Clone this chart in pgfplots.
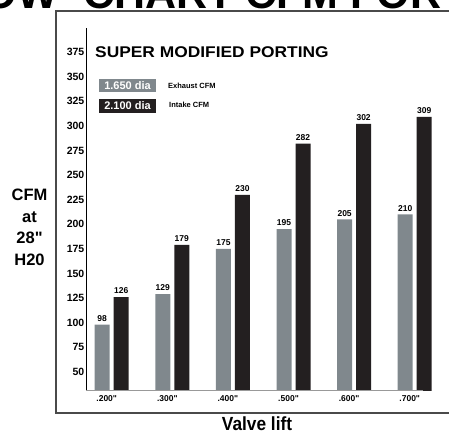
\documentclass[border=0pt]{standalone}
\usepackage{pgfplots}
\pgfplotsset{compat=1.18}
\usepackage{fontspec}
\setmainfont{Liberation Sans}
\definecolor{exh}{HTML}{80888D}
\definecolor{intk}{HTML}{231F20}
\definecolor{frame}{HTML}{4A4A4A}
\begin{document}
\begin{tikzpicture}[x=1pt,y=1pt]
\useasboundingbox (0,0) rectangle (449,433);
\clip (0,0) rectangle (449,433);
% big cut-off heading
\node[anchor=base east, inner sep=0pt, font=\fontsize{43}{43}\selectfont\bfseries] at (58,424) {FLOW};
\node[anchor=base west, inner sep=0pt, font=\fontsize{43}{43}\selectfont\bfseries] at (83,424) {CHART CFM FOR};
% frame
\draw[frame, line width=1.3pt] (449,422) -- (56,422) -- (56,20) -- (449,20);
\begin{axis}[
  at={(86pt,42pt)}, anchor=south west,
  scale only axis, width=346.9pt, height=363pt,
  xmin=-0.424, xmax=5.3, ymin=30.7, ymax=399.4,
  axis x line*=bottom, axis y line*=left,
  x axis line style={draw=none},
  y axis line style={-, black, line width=0.6pt},
  tick style={draw=none}, major tick length=0pt,
  xtick={0,1,2,3,4,5},
  xticklabels={.200\textquotedbl,.300\textquotedbl,.400\textquotedbl,.500\textquotedbl,.600\textquotedbl,.700\textquotedbl},
  xticklabel style={font=\fontsize{8.5}{9}\selectfont\bfseries, inner sep=0pt, xshift=-5pt, yshift=-4pt},
  ytick={50,75,...,375},
  yticklabel style={font=\fontsize{10.5}{11}\selectfont\bfseries, inner sep=0pt, xshift=-1.5pt},
  /pgf/number format/assume math mode=true,
  ybar, bar width=15pt,
  nodes near coords,
  nodes near coords style={font=\fontsize{8.5}{9}\selectfont\bfseries, inner sep=0pt, anchor=south, yshift=3pt, text=black},
]
\addplot[fill=exh, draw=none, bar shift=-9.5pt] coordinates {(0,98) (1,129) (2,175) (3,195) (4,205) (5,210)};
\addplot[fill=intk, draw=none, bar shift=9.5pt] coordinates {(0,126) (1,179) (2,230) (3,282) (4,302) (5,309)};
\draw[gray!80, line width=1.6pt] (axis cs:-0.424,30.7) -- (axis cs:5.137,30.7);
\end{axis}
% chart title
\node[anchor=base west, inner sep=0pt, xscale=1.12, font=\fontsize{15.5}{16}\selectfont\bfseries] at (95,375.7) {SUPER MODIFIED PORTING};
% legend
\fill[exh] (99,341) rectangle (156,354);
\node[text=white, font=\fontsize{11}{11}\selectfont\bfseries, inner sep=0pt] at (127.5,347.5) {1.650 dia};
\fill[intk] (99,320) rectangle (156,334);
\node[text=white, font=\fontsize{11}{11}\selectfont\bfseries, inner sep=0pt] at (127.5,327) {2.100 dia};
\node[anchor=west, inner sep=0pt, font=\fontsize{7.5}{8}\selectfont\bfseries] at (168,347.5) {Exhaust CFM};
\node[anchor=west, inner sep=0pt, font=\fontsize{7.5}{8}\selectfont\bfseries] at (169,328) {Intake CFM};
% y label
\node[anchor=base, inner sep=0pt, font=\fontsize{16.5}{17}\selectfont\bfseries] at (29.5,232.3) {CFM};
\node[anchor=base, inner sep=0pt, font=\fontsize{16.5}{17}\selectfont\bfseries] at (29.5,210.3) {at};
\node[anchor=base, inner sep=0pt, font=\fontsize{16.5}{17}\selectfont\bfseries] at (29.5,189) {28\textquotedbl};
\node[anchor=base, inner sep=0pt, font=\fontsize{16.5}{17}\selectfont\bfseries] at (29.5,167) {H20};
% x label
\node[anchor=base, inner sep=0pt, xscale=0.91, font=\fontsize{19}{19}\selectfont\bfseries] at (257,2) {Valve lift};
\end{tikzpicture}
\end{document}
